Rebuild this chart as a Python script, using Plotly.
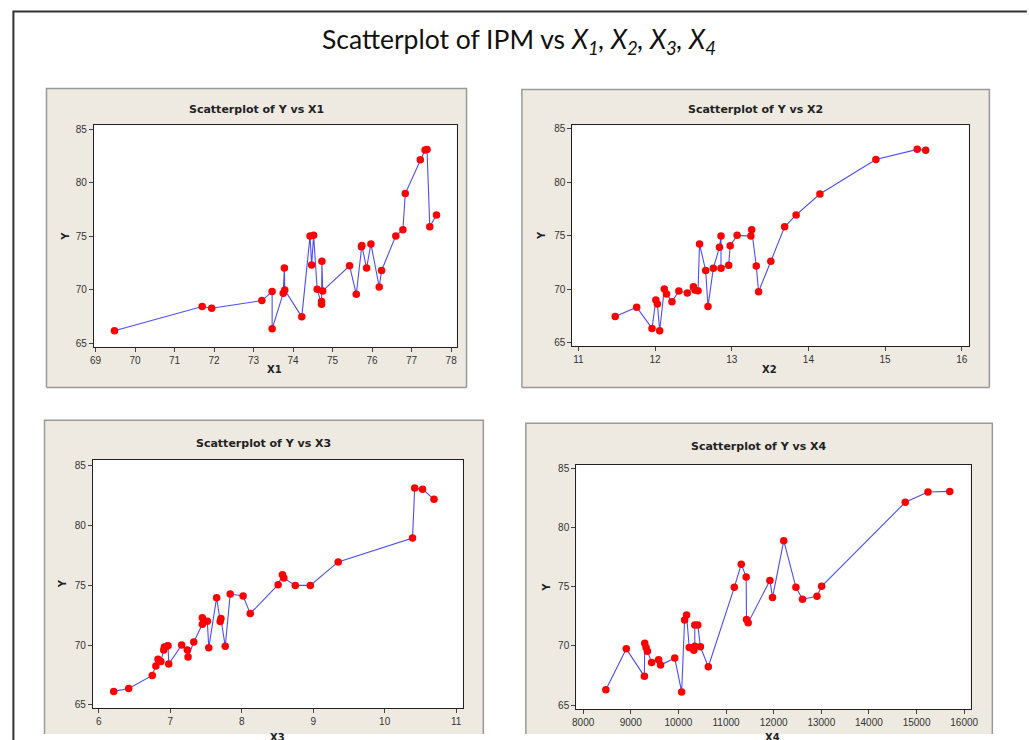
import plotly.graph_objects as go

W, H = 1029, 740

# ---------------- data ----------------
x1_vals = [69.48, 71.70, 71.94, 73.21, 73.47, 73.47, 73.75, 73.78, 73.79, 74.22,
           74.43, 74.47, 74.52, 74.61, 74.72, 74.72, 74.73, 74.75, 75.43, 75.60,
           75.73, 75.74, 75.86, 75.97, 76.18, 76.24, 76.60, 76.78, 76.84, 77.22,
           77.34, 77.39, 77.46, 77.63]
y1_vals = [66.15, 68.41, 68.26, 68.97, 69.81, 66.33, 69.65, 72.01, 69.96, 67.45,
           75.02, 72.29, 75.08, 70.02, 68.63, 68.88, 72.66, 69.87, 72.22, 69.56,
           74.00, 74.12, 72.01, 74.27, 70.24, 71.79, 75.02, 75.60, 78.98, 82.15,
           83.05, 83.11, 75.88, 76.97]

x2_vals = [11.48, 11.76, 11.96, 12.01, 12.03, 12.06, 12.12, 12.15, 12.22, 12.31,
           12.42, 12.50, 12.52, 12.56, 12.58, 12.66, 12.69, 12.76, 12.84, 12.86,
           12.86, 12.96, 12.98, 13.07, 13.25, 13.26, 13.32, 13.35, 13.51, 13.69,
           13.84, 14.15, 14.88, 15.42, 15.53]
y2_vals = [67.47, 68.34, 66.36, 69.02, 68.65, 66.14, 70.04, 69.58, 68.86, 69.85,
           69.67, 70.26, 69.95, 69.88, 74.24, 71.77, 68.40, 71.99, 73.93, 74.98,
           71.99, 72.26, 74.09, 75.05, 74.98, 75.57, 72.20, 69.79, 72.64, 75.85,
           76.96, 78.91, 82.13, 83.08, 82.99]

x3_vals = [6.21, 6.42, 6.75, 6.80, 6.83, 6.87, 6.91, 6.92, 6.95, 6.97,
           6.98, 7.16, 7.24, 7.25, 7.33, 7.45, 7.45, 7.52, 7.54, 7.65,
           7.70, 7.71, 7.77, 7.84, 8.02, 8.12, 8.51, 8.57, 8.59, 8.75,
           8.96, 9.35, 10.39, 10.42, 10.53, 10.69]
y3_vals = [66.13, 66.38, 67.46, 68.26, 68.81, 68.62, 69.59, 69.83, 69.89, 69.94,
           68.41, 70.00, 69.59, 69.00, 70.25, 71.74, 72.27, 71.99, 69.78, 73.95,
           71.96, 72.21, 69.89, 74.25, 74.09, 72.62, 75.03, 75.86, 75.58, 74.97,
           74.97, 76.93, 78.92, 83.09, 83.00, 82.15]

x4_vals = [8477, 8906, 9286, 9293, 9321, 9349, 9438, 9584, 9625, 9923,
           10068, 10130, 10172, 10227, 10296, 10324, 10344, 10344, 10407, 10462,
           10628, 11174, 11320, 11423, 11430, 11465, 11921, 11976, 12212, 12467,
           12606, 12910, 13007, 14763, 15240, 15697]
y4_vals = [66.31, 69.75, 67.43, 70.22, 69.86, 69.55, 68.60, 68.83, 68.38, 68.97,
           66.12, 72.18, 72.60, 69.86, 69.80, 69.64, 69.97, 71.76, 71.76, 69.92,
           68.24, 74.94, 76.90, 75.81, 72.23, 71.96, 75.53, 74.08, 78.88, 74.94,
           73.94, 74.19, 75.03, 82.12, 82.99, 83.04]

y_ticks = [65, 70, 75, 80, 85]
x1_ticks = list(range(69, 79))
x2_ticks = list(range(11, 17))
x3_ticks = list(range(6, 12))
x4_ticks = list(range(8000, 16001, 1000))

panel_titles = ["Scatterplot of Y vs X1", "Scatterplot of Y vs X2",
                "Scatterplot of Y vs X3", "Scatterplot of Y vs X4"]
x_titles = ["X1", "X2", "X3", "X4"]
main_title = ("Scatterplot of IPM vs <i>X<sub>1</sub>, X<sub>2</sub>, "
              "X<sub>3</sub>, X<sub>4</sub></i>")

# ---------------- layout geometry (pixels) ----------------
def px(x):
    return x / W

def py(y):
    return 1 - y / H

# plot areas: left, right, top, bottom (px)
areas = [(91, 458, 124, 347), (575, 976, 124, 346),
         (90, 464, 461, 711), (579, 978, 466, 712)]
# beige boxes: left, right, top, bottom
boxes = [(43, 468, 87, 388), (524, 997, 88, 388),
         (41, 485, 421, 737), (528, 1000, 424, 737)]
xranges = [[68.96, 78.14], [10.92, 16.09], [5.92, 11.09], [7855, 16135]]
yranges = [[64.66, 85.38], [64.75, 85.34], [64.73, 85.44], [64.66, 85.28]]
xticks = [x1_ticks, x2_ticks, x3_ticks, x4_ticks]
title_pos = [(255.5, 108), (760, 108), (263, 445), (764, 448)]
xtitle_pos = [(274, 370), (775, 370), (277, 740.5), (778, 740.5)]
ytitle_pos = [(62, 236), (544, 235), (59, 586), (548, 589)]

data = [(x1_vals, y1_vals), (x2_vals, y2_vals), (x3_vals, y3_vals), (x4_vals, y4_vals)]

fig = go.Figure()
layout = dict(width=W, height=H, margin=dict(l=0, r=0, t=0, b=0),
              paper_bgcolor="white", plot_bgcolor="rgba(0,0,0,0)",
              showlegend=False)

shapes = []
annotations = []

tick_font = dict(family="Liberation Sans, Arial", size=10, color="#333333")

for i in range(4):
    n = "" if i == 0 else str(i + 1)
    xv, yv = data[i]
    fig.add_trace(go.Scatter(
        x=xv, y=yv, mode="lines+markers", xaxis="x" + n, yaxis="y" + n,
        line=dict(color="#4D4DF7", width=1.1),
        marker=dict(color="#FF0000", size=7.5, line=dict(width=0)),
        hoverinfo="skip"))
    l, r, t, b = areas[i]
    layout["xaxis" + n] = dict(
        domain=[px(l), px(r)], range=xranges[i], anchor="y" + n,
        tickvals=xticks[i], ticktext=[str(v) for v in xticks[i]],
        ticks="outside", ticklen=4, tickcolor="#444",
        tickwidth=1, showgrid=False, zeroline=False, showline=True,
        linecolor="#222", linewidth=1, mirror=True, tickfont=tick_font,
        fixedrange=True)
    layout["yaxis" + n] = dict(
        domain=[py(b), py(t)], range=yranges[i], anchor="x" + n,
        tickvals=y_ticks, ticktext=[str(v) for v in y_ticks],
        ticks="outside", ticklen=4, tickcolor="#444",
        tickwidth=1, showgrid=False, zeroline=False, showline=True,
        linecolor="#222", linewidth=1, mirror=True, tickfont=tick_font,
        fixedrange=True)

    bl, br, bt, bb = boxes[i]
    shapes.append(dict(type="rect", xref="paper", yref="paper",
                       x0=px(bl), x1=px(br), y0=py(bb), y1=py(bt),
                       fillcolor="#EEEAE1", line=dict(width=0), layer="below"))
    shapes.append(dict(type="path", xref="paper", yref="paper",
                       path=(f"M {px(bl)} {py(bb)} L {px(bl)} {py(bt)} "
                             f"L {px(br)} {py(bt)} L {px(br)} {py(bb)}"),
                       line=dict(color="#9A9A9A", width=1.5), layer="below"))
    if i < 2:
        shapes.append(dict(type="line", xref="paper", yref="paper",
                           x0=px(bl), x1=px(br), y0=py(bb), y1=py(bb),
                           line=dict(color="#9A9A9A", width=1.5), layer="below"))
    shapes.append(dict(type="rect", xref="paper", yref="paper",
                       x0=px(l), x1=px(r), y0=py(b), y1=py(t),
                       fillcolor="white", line=dict(width=0), layer="below"))

    tx, ty = title_pos[i]
    annotations.append(dict(text="<b>" + panel_titles[i] + "</b>", xref="paper", yref="paper",
                            x=px(tx), y=py(ty), xanchor="center", yanchor="middle",
                            showarrow=False,
                            font=dict(family="DejaVu Sans", size=11, color="#222")))
    ax_, ay_ = xtitle_pos[i]
    annotations.append(dict(text="<b>" + x_titles[i] + "</b>", xref="paper", yref="paper",
                            x=px(ax_), y=py(ay_), xanchor="center", yanchor="middle",
                            showarrow=False,
                            font=dict(family="DejaVu Sans", size=10, color="#222")))
    yx, yy = ytitle_pos[i]
    annotations.append(dict(text="<b>Y</b>", xref="paper", yref="paper",
                            x=px(yx), y=py(yy), xanchor="center", yanchor="middle",
                            textangle=-90, showarrow=False,
                            font=dict(family="DejaVu Sans", size=10, color="#222")))

# outer frame (left and top edges)
shapes.append(dict(type="path", xref="paper", yref="paper",
                   path=f"M {px(9.5)} {py(745)} L {px(9.5)} {py(9.5)} L {px(1035)} {py(9.5)}",
                   line=dict(color="#333333", width=2), layer="below"))

annotations.append(dict(text=main_title, xref="paper", yref="paper",
                        x=px(521), y=py(39), xanchor="center", yanchor="middle",
                        showarrow=False,
                        font=dict(family="Lato", size=26.5, color="#111")))

layout["shapes"] = shapes
layout["annotations"] = annotations
fig.update_layout(**layout)
fig.write_html("out.html", config={"displayModeBar": False},
               post_script="document.body.style.margin='0';document.body.style.overflow='hidden';")
